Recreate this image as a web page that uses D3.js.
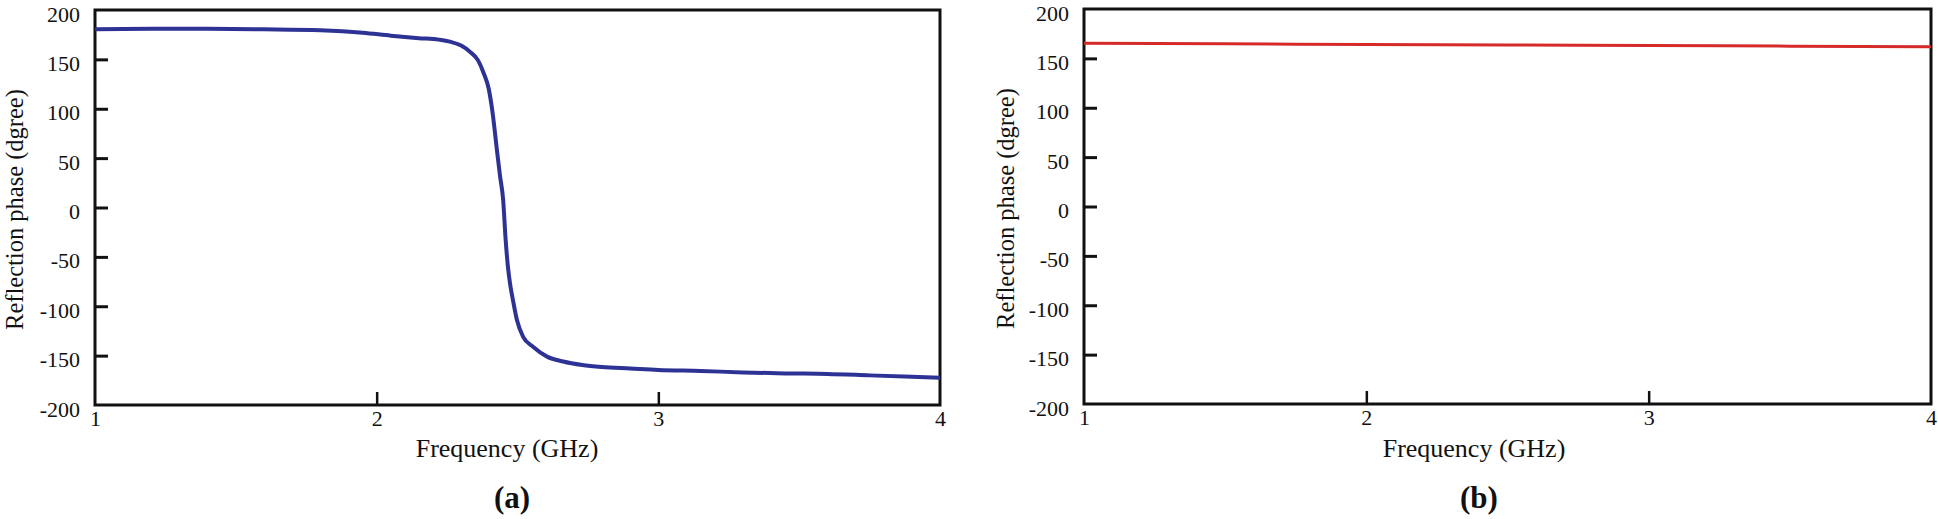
<!DOCTYPE html>
<html>
<head>
<meta charset="utf-8">
<script src="https://cdn.jsdelivr.net/npm/d3@7"></script>
<style>
  html, body { margin: 0; padding: 0; background: #fff; }
  svg text { font-family: "Liberation Serif", "DejaVu Serif", serif; fill: #111; }
</style>
</head>
<body>
<div id="chart"></div>
<script>
(function(){
    var WIDTH  = 1938,
        HEIGHT = 519;

    // panel (a): reflection phase of the structure, blue
    var freqA  = [1.0, 1.2, 1.4, 1.6, 1.8, 1.95, 2.05, 2.15, 2.22, 2.26, 2.3, 2.33, 2.36, 2.38,
                  2.398, 2.412, 2.427, 2.438, 2.449, 2.458, 2.466, 2.474, 2.484, 2.498, 2.52,
                  2.555, 2.605, 2.662, 2.73, 2.8, 2.9, 3.0, 3.15, 3.3, 3.45, 3.6, 3.75, 3.9, 4.0];
    var phaseA = [180.5, 181, 181, 180.5, 179.5, 177, 174, 171.5, 170, 168, 164, 158, 149, 136,
                  120, 95, 58, 32, 8, -33, -60, -78, -94, -114, -131,
                  -141, -151, -156, -159.5, -161.5, -163, -164.5, -165.5, -167, -168, -168.5, -170, -171.5, -172.5];

    // panel (b): reflection phase, red
    var freqB  = [1.0, 1.5, 2.0, 2.5, 3.0, 3.5, 4.0];
    var phaseB = [165.3, 164.7, 164.1, 163.5, 163.0, 162.4, 161.8];

    var xTicks = [1, 2, 3, 4];
    var yTicks = [-200, -150, -100, -50, 0, 50, 100, 150, 200];

    var X_LABEL = 'Frequency (GHz)',
        Y_LABEL = 'Reflection phase (dgree)';

    var panels = [
        { freq: freqA, phase: phaseA, color: '#2d3394', width: 4,
          left: 95, right: 940, top: 10, bottom: 405, tag: '(a)', titleX: 23, labelX: 507 },
        { freq: freqB, phase: phaseB, color: '#d42a2a', width: 3,
          left: 1084, right: 1931, top: 9, bottom: 404, tag: '(b)', titleX: 1014, labelX: 1474 }
    ];

    var svg = d3.select('#chart')
        .append('svg')
        .attr('width', WIDTH)
        .attr('height', HEIGHT);

    panels.forEach(draw);

    function draw(p){
        var x = d3.scaleLinear().domain([1, 4]).range([p.left, p.right]);
        var y = d3.scaleLinear().domain([-200, 200]).range([p.bottom, p.top]);

        var g = svg.append('g');

        // y axis, ticks pointing inwards
        var yAxis = g.append('g')
            .attr('transform', 'translate(' + p.left + ',0)')
            .call(d3.axisLeft(y).tickValues(yTicks).tickSize(-13).tickPadding(15).tickFormat(d3.format('d')));
        yAxis.select('.domain').remove();
        yAxis.selectAll('.tick line')
            .attr('stroke', '#111').attr('stroke-width', 3)
            .attr('display', function(d){ return Math.abs(d) === 200 ? 'none' : null; });
        yAxis.selectAll('.tick text')
            .attr('font-size', 22).attr('dy', null).attr('y', 11)
            .text(function(d){ return String(d).replace('\u2212', '-'); });

        // x axis
        var xAxis = g.append('g')
            .attr('transform', 'translate(0,' + p.bottom + ')')
            .call(d3.axisBottom(x).tickValues(xTicks).tickSize(-13).tickPadding(6).tickFormat(d3.format('d')));
        xAxis.select('.domain').remove();
        xAxis.selectAll('.tick line')
            .attr('stroke', '#111').attr('stroke-width', 2.5)
            .attr('display', function(d){ return (d === 1 || d === 4) ? 'none' : null; });
        xAxis.selectAll('.tick text')
            .attr('font-size', 22).attr('dy', null).attr('y', 21);

        // frame
        g.append('rect')
            .attr('x', p.left).attr('y', p.top)
            .attr('width', p.right - p.left).attr('height', p.bottom - p.top)
            .attr('fill', 'none').attr('stroke', '#111').attr('stroke-width', 3);

        // curve
        var line = d3.line()
            .x(function(d){ return x(d[0]); })
            .y(function(d){ return y(d[1]); })
            .curve(d3.curveMonotoneX);

        g.append('path')
            .datum(d3.zip(p.freq, p.phase))
            .attr('d', line)
            .attr('fill', 'none')
            .attr('stroke', p.color)
            .attr('stroke-width', p.width)
            .attr('stroke-linejoin', 'round');

        // labels
        g.append('text')
            .attr('transform', 'translate(' + p.titleX + ',' + ((p.top + p.bottom) / 2 + 2) + ') rotate(-90)')
            .attr('text-anchor', 'middle')
            .attr('font-size', 24.5)
            .text(Y_LABEL);

        g.append('text')
            .attr('x', p.labelX).attr('y', 457)
            .attr('text-anchor', 'middle')
            .attr('font-size', 26)
            .text(X_LABEL);

        g.append('text')
            .attr('x', p.labelX + 5).attr('y', 508)
            .attr('text-anchor', 'middle')
            .attr('font-size', 31)
            .attr('font-weight', 'bold')
            .text(p.tag);
    }
})();
</script>
</body>
</html>
